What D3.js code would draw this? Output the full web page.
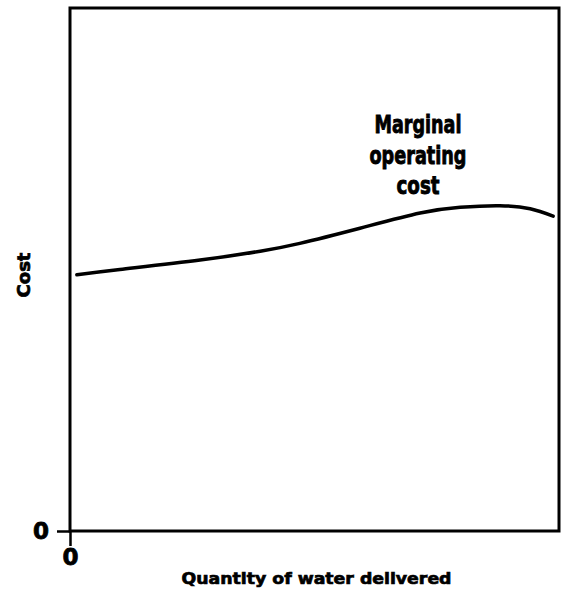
<!DOCTYPE html>
<html>
<head>
<meta charset="utf-8">
<script src="https://cdn.jsdelivr.net/npm/d3@7"></script>
<style>
  body { margin: 0; background: #fff; }
  svg { display: block; }
</style>
</head>
<body>
<div id="chart"></div>
<script>
var width = 562, height = 590;
var margin = { top: 8, right: 3, bottom: 59, left: 70 };

// quantity of water (x, share of range) and marginal operating cost (y)
var quantity = [1.4, 10.2, 26.6, 38.9, 47.0, 59.3, 71.6, 79.8, 87.9, 94.1, 98.8];
var cost = [49.0, 50.0, 51.8, 53.5, 55.0, 57.9, 60.8, 61.9, 62.2, 61.6, 60.2];
var xTicks = [0], yTicks = [0];
var curveLabel = ["Marginal", "operating", "cost"];
var labelWidths = [87, 97, 43];

var svg = d3.select("#chart").append("svg")
    .attr("width", width).attr("height", height);

var x = d3.scaleLinear().domain([0, 100]).range([margin.left, width - margin.right]);
var y = d3.scaleLinear().domain([0, 100]).range([height - margin.bottom, margin.top]);

// frame
svg.append("rect")
    .attr("x", x(0)).attr("y", y(100))
    .attr("width", x(100) - x(0)).attr("height", y(0) - y(100))
    .attr("fill", "none").attr("stroke", "#000").attr("stroke-width", 3);

var yAxis = svg.append("g")
    .attr("transform", "translate(" + x(0) + ",0)")
    .call(d3.axisLeft(y).tickValues(yTicks).tickSize(13).tickPadding(8).tickFormat(d3.format("d")));
var xAxis = svg.append("g")
    .attr("transform", "translate(0," + y(0) + ")")
    .call(d3.axisBottom(x).tickValues(xTicks).tickSize(15).tickPadding(3).tickFormat(d3.format("d")));

[yAxis, xAxis].forEach(function (a) {
    a.select(".domain").remove();
    a.selectAll("line").attr("stroke", "#000").attr("stroke-width", 2.5);
    a.selectAll("text")
        .attr("fill", "#000")
        .attr("stroke", "#000")
        .attr("stroke-width", 0.8)
        .attr("font-family", "'DejaVu Sans', sans-serif")
        .attr("font-weight", "bold")
        .attr("font-size", 23);
});

var line = d3.line()
    .x(function (d, i) { return x(quantity[i]); })
    .y(function (d) { return y(d); })
    .curve(d3.curveNatural);

svg.append("path")
    .datum(cost)
    .attr("d", line)
    .attr("fill", "none")
    .attr("stroke", "#000")
    .attr("stroke-width", 3.5)
    .attr("stroke-linecap", "round");

svg.append("g").selectAll("text")
    .data(curveLabel)
    .enter().append("text")
    .attr("x", 418)
    .attr("y", function (d, i) { return 133 + i * 30.5; })
    .attr("text-anchor", "middle")
    .attr("textLength", function (d, i) { return labelWidths[i]; })
    .attr("lengthAdjust", "spacingAndGlyphs")
    .attr("stroke", "#000")
    .attr("stroke-width", 0.9)
    .style("font-family", "'DejaVu Sans', sans-serif")
    .style("font-weight", "bold")
    .style("font-size", "24px")
    .text(function (d) { return d; });

svg.append("text")
    .attr("x", (x(0) + x(100)) / 2 + 2)
    .attr("y", 584)
    .attr("text-anchor", "middle")
    .attr("textLength", 270)
    .attr("lengthAdjust", "spacingAndGlyphs")
    .attr("stroke", "#000")
    .attr("stroke-width", 0.7)
    .style("font-family", "'DejaVu Sans', sans-serif")
    .style("font-weight", "bold")
    .style("font-size", "16px")
    .text("Quantity of water delivered");

svg.append("text")
    .attr("transform", "translate(30,275) rotate(-90)")
    .attr("text-anchor", "middle")
    .attr("textLength", 45)
    .attr("lengthAdjust", "spacingAndGlyphs")
    .attr("stroke", "#000")
    .attr("stroke-width", 0.7)
    .style("font-family", "'DejaVu Sans', sans-serif")
    .style("font-weight", "bold")
    .style("font-size", "18px")
    .text("Cost");
</script>
</body>
</html>
